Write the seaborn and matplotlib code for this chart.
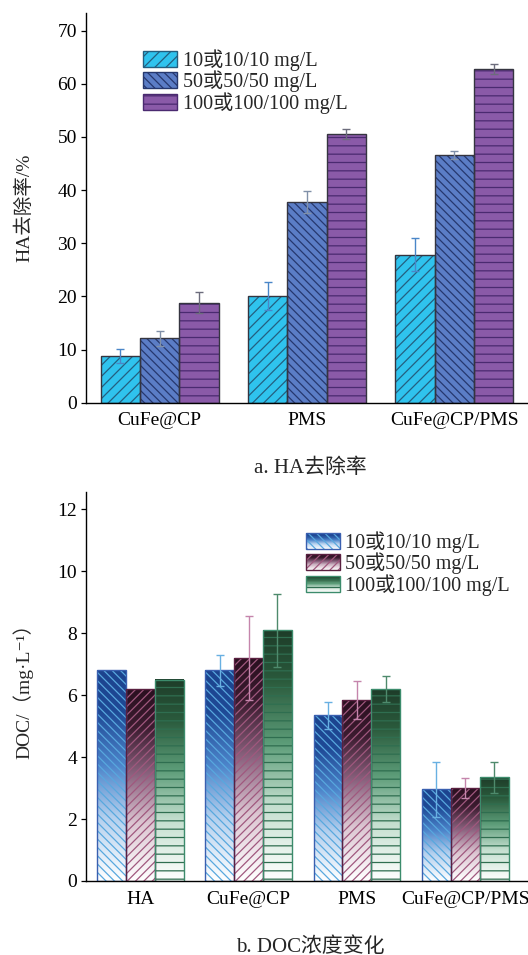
import numpy as np
import pandas as pd
import seaborn as sns
import matplotlib as mpl
import matplotlib.pyplot as plt
from matplotlib.patches import Patch, Rectangle
from matplotlib.legend_handler import HandlerBase
from matplotlib.colors import LinearSegmentedColormap

# ---------------- data ----------------
levels = ['10或10/10 mg/L', '50或50/50 mg/L', '100或100/100 mg/L']

ha_groups = ['CuFe@CP', 'PMS', 'CuFe@CP/PMS']
ha_removal_10 = [8.8, 20.1, 27.8]
ha_removal_50 = [12.1, 37.8, 46.6]
ha_removal_100 = [18.8, 50.5, 62.7]
ha_err_10 = [1.3, 2.6, 3.1]
ha_err_50 = [1.45, 2.1, 0.75]
ha_err_100 = [1.95, 0.95, 0.95]
ha_yticks = [0, 10, 20, 30, 40, 50, 60, 70]

doc_groups = ['HA', 'CuFe@CP', 'PMS', 'CuFe@CP/PMS']
doc_10 = [6.80, 6.80, 5.34, 2.96]
doc_50 = [6.19, 7.19, 5.84, 3.00]
doc_100 = [6.49, 8.09, 6.19, 3.34]
doc_err_10 = [0.0, 0.50, 0.42, 0.88]
doc_err_50 = [0.0, 1.35, 0.60, 0.33]
doc_err_100 = [0.0, 1.18, 0.43, 0.50]
doc_yticks = [0, 2, 4, 6, 8, 10, 12]

# ---------------- style ----------------
sns.set_theme(style='ticks')
plt.rcParams['font.family'] = ['Liberation Serif', 'Noto Sans CJK SC',
                               'DejaVu Serif']
plt.rcParams['hatch.linewidth'] = 0.9
plt.rcParams['axes.linewidth'] = 1.0

FS = 14      # tick labels, axis titles
FS_LEG = 14.5
FS_CAP = 15

fig = plt.figure(figsize=(5.28, 9.55), dpi=100)
ax1 = fig.add_axes([0.1629, 0.5783, 0.8371, 0.4081])
ax2 = fig.add_axes([0.1629, 0.0775, 0.8371, 0.4076])


def style_axes(ax, yticks, ylim, xlim):
    ax.set_xlim(*xlim)
    ax.set_ylim(*ylim)
    ax.set_yticks(yticks)
    ax.set_xlabel('')
    for s in ('top', 'right'):
        ax.spines[s].set_visible(False)
    for s in ('left', 'bottom'):
        ax.spines[s].set_color('black')
        ax.spines[s].set_zorder(6)
    ax.tick_params(axis='y', direction='out', length=3.5, width=0.9,
                   labelsize=FS, pad=3, colors='black')
    ax.tick_params(axis='x', length=0, labelsize=FS, pad=7, colors='black')


# ---------------- panel a: HA removal ----------------
df_a = pd.DataFrame({
    'group': np.tile(ha_groups, 3),
    'level': np.repeat(levels, len(ha_groups)),
    'value': ha_removal_10 + ha_removal_50 + ha_removal_100,
})
face_a = ['#2fc3ee', '#5b7dc6', '#8a5aa8']
hatch_a = ['///', '\\\\\\\\', '--']
hatchcol_a = ['#245f80', '#26386e', '#4a2a70']
errcol_a = ['#4a86c8', '#8090a8', '#6c6c7c']
errs_a = [ha_err_10, ha_err_50, ha_err_100]

sns.barplot(data=df_a, x='group', y='value', hue='level', order=ha_groups,
            hue_order=levels, palette=face_a, saturation=1, errorbar=None,
            width=0.8, legend=False, ax=ax1)

bar_sets_a = list(ax1.containers)
for i, cont in enumerate(bar_sets_a):
    xs, ys = [], []
    for bar in cont:
        bar.set_edgecolor('#353540')
        bar.set_linewidth(1.0)
        x0, w, h = bar.get_x(), bar.get_width(), bar.get_height()
        ax1.add_patch(Rectangle((x0, 0), w, h, facecolor='none',
                                edgecolor=hatchcol_a[i], lw=0,
                                hatch=hatch_a[i], zorder=2))
        bar.set_zorder(2.5)
        bar.set_facecolor((0, 0, 0, 0))
        ax1.add_patch(Rectangle((x0, 0), w, h, facecolor=face_a[i],
                                edgecolor='none', zorder=1.5))
        xs.append(x0 + w / 2)
        ys.append(h)
    ax1.errorbar(xs, ys, yerr=errs_a[i], fmt='none', ecolor=errcol_a[i],
                 elinewidth=1.0, capsize=3, capthick=1.0, zorder=4)

style_axes(ax1, ha_yticks, (0, 73.3), (-0.5, 2.5))
ax1.set_ylabel('HA去除率/%', fontsize=FS)
ax1.yaxis.set_label_coords(-0.12, 0.5)

handles_a = [Patch(facecolor=face_a[i], edgecolor=hatchcol_a[i],
                   hatch=hatch_a[i], lw=1.0) for i in range(3)]
ax1.legend(handles_a, levels, loc='upper left',
           bbox_to_anchor=(143 / 528, 1 - 49 / 955),
           bbox_transform=fig.transFigure, frameon=False, borderpad=0,
           borderaxespad=0, handlelength=1.7, handleheight=0.84,
           handletextpad=0.28, labelspacing=0.0, fontsize=FS_LEG)

fig.text(310 / 528, 1 - 468 / 955, 'a. HA去除率', ha='center', va='center',
         fontsize=FS_CAP)

# ---------------- panel b: DOC ----------------
df_b = pd.DataFrame({
    'group': np.tile(doc_groups, 3),
    'level': np.repeat(levels, len(doc_groups)),
    'value': doc_10 + doc_50 + doc_100,
})
grad_b = [
    LinearSegmentedColormap.from_list('blue_fade', [
        (0.0, '#ffffff'), (0.3, '#b4d0ee'), (0.55, '#4c84ca'),
        (0.8, '#1f4a96'), (1.0, '#1c438e')]),
    LinearSegmentedColormap.from_list('maroon_fade', [
        (0.0, '#ffffff'), (0.3, '#dcc6d2'), (0.55, '#8c6480'),
        (0.8, '#3c1c30'), (1.0, '#2a1020')]),
    LinearSegmentedColormap.from_list('green_fade', [
        (0.0, '#ffffff'), (0.3, '#c4dfcf'), (0.55, '#5c9c78'),
        (0.8, '#2a5a3c'), (1.0, '#1e3c29')]),
]
mid_b = ['#2a5aa8', '#5a2a48', '#2e6a48']
hatch_b = ['\\\\\\\\', '////', '--']
hatchcol_b = ['#58a8de', '#a0587e', '#2f6e50']
edge_b = ['#3a60b0', '#5a2040', '#3c8c6c']
errcol_b = ['#68b0e2', '#c585ac', '#4e8a6c']
errs_b = [doc_err_10, doc_err_50, doc_err_100]

sns.barplot(data=df_b, x='group', y='value', hue='level', order=doc_groups,
            hue_order=levels, palette=mid_b, saturation=1, errorbar=None,
            width=0.8, legend=False, ax=ax2)

ramp = np.linspace(0, 1, 256).reshape(-1, 1)
bar_sets_b = list(ax2.containers)
for i, cont in enumerate(bar_sets_b):
    xs, ys, es = [], [], []
    for bar, err in zip(cont, errs_b[i]):
        x0, w, h = bar.get_x(), bar.get_width(), bar.get_height()
        ax2.imshow(ramp, cmap=grad_b[i], origin='lower', aspect='auto',
                   extent=[x0, x0 + w, 0, h], zorder=1.5,
                   interpolation='bilinear')
        ax2.add_patch(Rectangle((x0, 0), w, h, facecolor='none',
                                edgecolor=hatchcol_b[i], lw=0,
                                hatch=hatch_b[i], zorder=2))
        bar.set_facecolor((0, 0, 0, 0))
        bar.set_edgecolor(edge_b[i])
        bar.set_linewidth(1.0)
        bar.set_zorder(2.5)
        if err > 0:
            xs.append(x0 + w / 2)
            ys.append(h)
            es.append(err)
    if xs:
        ax2.errorbar(xs, ys, yerr=es, fmt='none', ecolor=errcol_b[i],
                     elinewidth=1.0, capsize=3, capthick=1.0, zorder=4)

style_axes(ax2, doc_yticks, (0, 12.56), (-0.5, 3.58))
ax2.set_ylabel('DOC/（mg·L⁻¹）', fontsize=FS)
ax2.yaxis.set_label_coords(-0.12, 0.5)


class GradientBarHandler(HandlerBase):
    """Legend key: vertical colour fade with hatch and outline."""

    def __init__(self, cmap, hatch, hatch_color, edge_color):
        super().__init__()
        self.cmap = cmap
        self.hatch = hatch
        self.hatch_color = hatch_color
        self.edge_color = edge_color

    def create_artists(self, legend, orig_handle, xdescent, ydescent,
                       width, height, fontsize, trans):
        x0, y0 = -xdescent, -ydescent
        n = 30
        arts = []
        for k in range(n):
            arts.append(Rectangle((x0, y0 + height * k / n), width,
                                  height / n * 1.08,
                                  facecolor=self.cmap((k + 0.5) / n),
                                  edgecolor='none', lw=0, transform=trans))
        arts.append(Rectangle((x0, y0), width, height, facecolor='none',
                              edgecolor=self.hatch_color, lw=0,
                              hatch=self.hatch, transform=trans))
        arts.append(Rectangle((x0, y0), width, height, facecolor='none',
                              edgecolor=self.edge_color, lw=1.0,
                              transform=trans))
        return arts


handles_b = [Patch() for _ in range(3)]
hmap = {h: GradientBarHandler(grad_b[i], hatch_b[i], hatchcol_b[i], edge_b[i])
        for i, h in enumerate(handles_b)}
ax2.legend(handles_b, levels, handler_map=hmap, loc='upper left',
           bbox_to_anchor=(306 / 528, 1 - 531 / 955),
           bbox_transform=fig.transFigure, frameon=False, borderpad=0,
           borderaxespad=0, handlelength=1.7, handleheight=0.84,
           handletextpad=0.22, labelspacing=0.0, fontsize=FS_LEG)

fig.text(310 / 528, 1 - 947 / 955, 'b. DOC浓度变化', ha='center', va='center',
         fontsize=FS_CAP)

fig.savefig('out.png', dpi=100)
